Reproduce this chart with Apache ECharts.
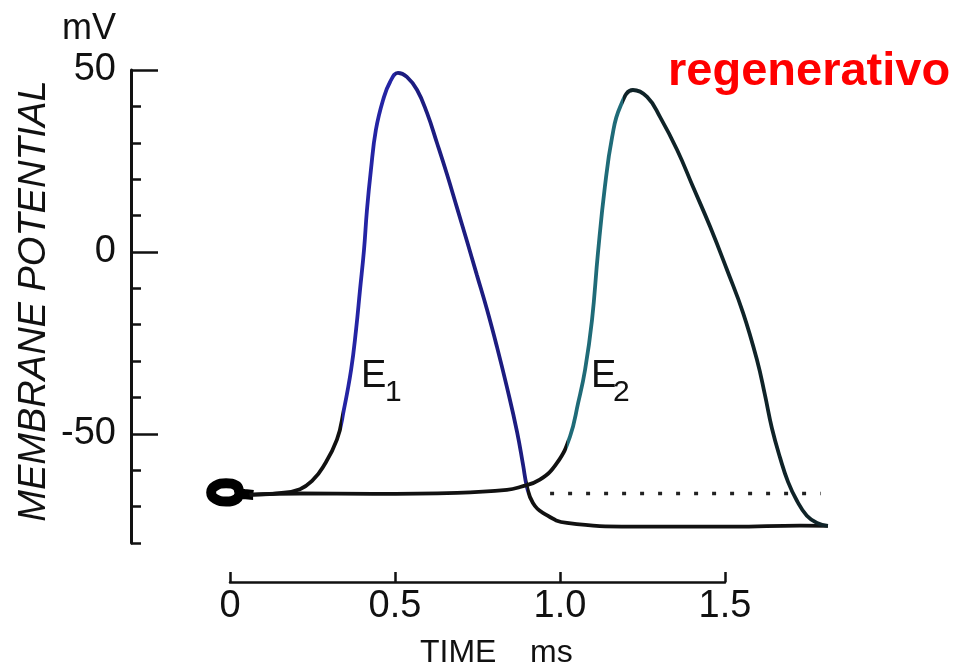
<!DOCTYPE html>
<html><head><meta charset="utf-8">
<script src="https://cdn.jsdelivr.net/npm/echarts@6/dist/echarts.min.js"></script>
<style>html,body{margin:0;padding:0;background:#fff}#c{width:959px;height:669px}</style>
</head><body><div id="c"></div>
<script>
// time in ms, membrane potential in mV
const loopTrace = [[0.07,-66.8],[0.033,-66.3],[0.02,-64.3],[-0.012,-63.6],[-0.044,-64.3],[-0.057,-66.1],[-0.044,-67.9],[-0.012,-68.6],[0.02,-67.9],[0.033,-66.5],[0.07,-66.8]];
const traceE1 = [[0.06,-66.7],[0.15,-66.3],[0.212,-65.2],[0.25,-62.8],[0.282,-59.1],[0.324,-51.6],[0.345,-43.4],[0.367,-32.4],[0.382,-21.4],[0.394,-10.4],[0.406,0.5],[0.415,11.5],[0.427,22.5],[0.442,33.5],[0.464,41.8],[0.485,46.7],[0.509,49.2],[0.536,48.1],[0.567,44.5],[0.597,38.2],[0.627,30.0],[0.658,21.2],[0.688,12.1],[0.718,3.0],[0.748,-6.3],[0.779,-15.9],[0.809,-26.1],[0.839,-37.1],[0.870,-49.5],[0.888,-58.5],[0.900,-64.6],[0.918,-69.0],[0.948,-71.7],[1.021,-74.5],[1.221,-75.5],[1.524,-75.5],[1.727,-75.2],[1.812,-75.3]];
const traceE2 = [[0.06,-66.8],[0.212,-66.4],[0.433,-66.5],[0.688,-66.2],[0.839,-65.4],[0.879,-64.6],[0.939,-62.6],[0.991,-58.0],[1.030,-50.8],[1.055,-41.5],[1.076,-32.4],[1.097,-18.7],[1.115,-0.3],[1.136,17.9],[1.158,31.6],[1.182,39.8],[1.221,44.5],[1.264,42.6],[1.303,37.1],[1.355,28.0],[1.403,17.9],[1.455,6.9],[1.506,-4.9],[1.555,-16.8],[1.597,-29.7],[1.621,-39.3],[1.642,-48.4],[1.667,-56.6],[1.691,-63.2],[1.718,-68.4],[1.748,-72.5],[1.779,-74.5],[1.812,-75.3]];
const restingDots = [[0.97,-66.4],[1.79,-66.4]];
const yMajorTicks = [-50, 0, 50];
const xTickValues = [0, 0.5, 1.0, 1.5];
const xTickLabels = ['0', '0.5', '1.0', '1.5'];

const chart = echarts.init(document.getElementById('c'), null, {renderer:'canvas'});
const FONT = 'Liberation Sans';
const INK = '#111';
chart.setOption({
  animation: false,
  backgroundColor: '#fff',
  grid: [
    {left:131, top:70, width:726, height:473},
    {left:230, top:560, width:495, height:22}
  ],
  xAxis: [
    {gridIndex:0, type:'value', min:-0.3, max:1.9, show:false},
    {gridIndex:1, type:'value', min:0, max:1.5, interval:0.5,
     axisLine:{show:true, onZero:false, lineStyle:{color:INK, width:2.5}},
     axisTick:{show:true, inside:true, length:10, lineStyle:{color:INK, width:2.5}},
     axisLabel:{margin:6, fontSize:38, color:INK, fontFamily:FONT,
       formatter: v => { const i = xTickValues.indexOf(+v.toFixed(2)); return i >= 0 ? xTickLabels[i] : ''; }},
     splitLine:{show:false}}
  ],
  yAxis: [
    {gridIndex:0, type:'value', min:-80, max:50, interval:10,
     axisLine:{show:true, onZero:false, lineStyle:{color:INK, width:3}},
     axisTick:{show:true, inside:true, length:10, lineStyle:{color:INK, width:2.5}},
     axisLabel:{margin:15, fontSize:38, color:INK, fontFamily:FONT,
       formatter: v => yMajorTicks.includes(v) ? String(v) : ''},
     splitLine:{show:false}},
    {gridIndex:0, type:'value', min:-80, max:50, position:'left',
     axisLine:{show:false, onZero:false},
     axisTick:{show:true, inside:true, length:27, customValues:yMajorTicks, lineStyle:{color:INK, width:2.5}},
     axisLabel:{show:false}, splitLine:{show:false}},
    {gridIndex:1, type:'value', show:false}
  ],
  visualMap: [
    {type:'piecewise', show:false, seriesIndex:1, dimension:0,
     pieces:[{lt:0.34, color:'#111'},{gte:0.34, lt:0.5, color:'#2424a4'},{gte:0.5, lt:0.9, color:'#1c1c80'},{gte:0.9, color:'#111'}]},
    {type:'piecewise', show:false, seriesIndex:2, dimension:0,
     pieces:[{lt:1.02, color:'#111'},{gte:1.02, lt:1.19, color:'#1f6b78'},{gte:1.19, color:'#0f2328'}]}
  ],
  series: [
    {type:'line', xAxisIndex:0, yAxisIndex:0, data:loopTrace, smooth:0.5, symbol:'none',
     lineStyle:{color:'#000', width:10}},
    {type:'line', xAxisIndex:0, yAxisIndex:0, data:traceE1, smooth:0.45, symbol:'none',
     lineStyle:{width:3.8}},
    {type:'line', xAxisIndex:0, yAxisIndex:0, data:traceE2, smooth:0.45, symbol:'none',
     lineStyle:{width:3.8}},
    {type:'line', xAxisIndex:0, yAxisIndex:0, data:restingDots, symbol:'none',
     lineStyle:{color:'#222', width:3.5, type:[4,14]}}
  ],
  graphic: [
    {type:'text', x:62, y:29, style:{text:'mV', fontSize:36, fontFamily:FONT, fill:INK, align:'left', verticalAlign:'middle', textAlign:'left', textVerticalAlign:'middle'}},
    {type:'text', x:34, y:301, rotation:Math.PI/2, style:{text:'MEMBRANE POTENTIAL', fontSize:38, fontStyle:'italic', fontFamily:FONT, fill:INK, align:'center', verticalAlign:'middle', textAlign:'center', textVerticalAlign:'middle'}},
    {type:'text', x:420, y:653, style:{text:'TIME', fontSize:32, fontFamily:FONT, fill:INK, align:'left', verticalAlign:'middle', textAlign:'left', textVerticalAlign:'middle'}},
    {type:'text', x:530, y:653, style:{text:'ms', fontSize:32, fontFamily:FONT, fill:INK, align:'left', verticalAlign:'middle', textAlign:'left', textVerticalAlign:'middle'}},
    {type:'text', x:668, y:72, style:{text:'regenerativo', fontSize:47, fontWeight:'bold', fontFamily:FONT, fill:'#ff0000', align:'left', verticalAlign:'middle', textAlign:'left', textVerticalAlign:'middle'}},
    {type:'text', x:361, y:377, style:{text:'E', fontSize:38, fontFamily:FONT, fill:INK, align:'left', verticalAlign:'middle', textAlign:'left', textVerticalAlign:'middle'}},
    {type:'text', x:385, y:393, style:{text:'1', fontSize:30, fontFamily:FONT, fill:INK, align:'left', verticalAlign:'middle', textAlign:'left', textVerticalAlign:'middle'}},
    {type:'text', x:591, y:377, style:{text:'E', fontSize:38, fontFamily:FONT, fill:INK, align:'left', verticalAlign:'middle', textAlign:'left', textVerticalAlign:'middle'}},
    {type:'text', x:613, y:393, style:{text:'2', fontSize:30, fontFamily:FONT, fill:INK, align:'left', verticalAlign:'middle', textAlign:'left', textVerticalAlign:'middle'}}
  ]
});
</script></body></html>
